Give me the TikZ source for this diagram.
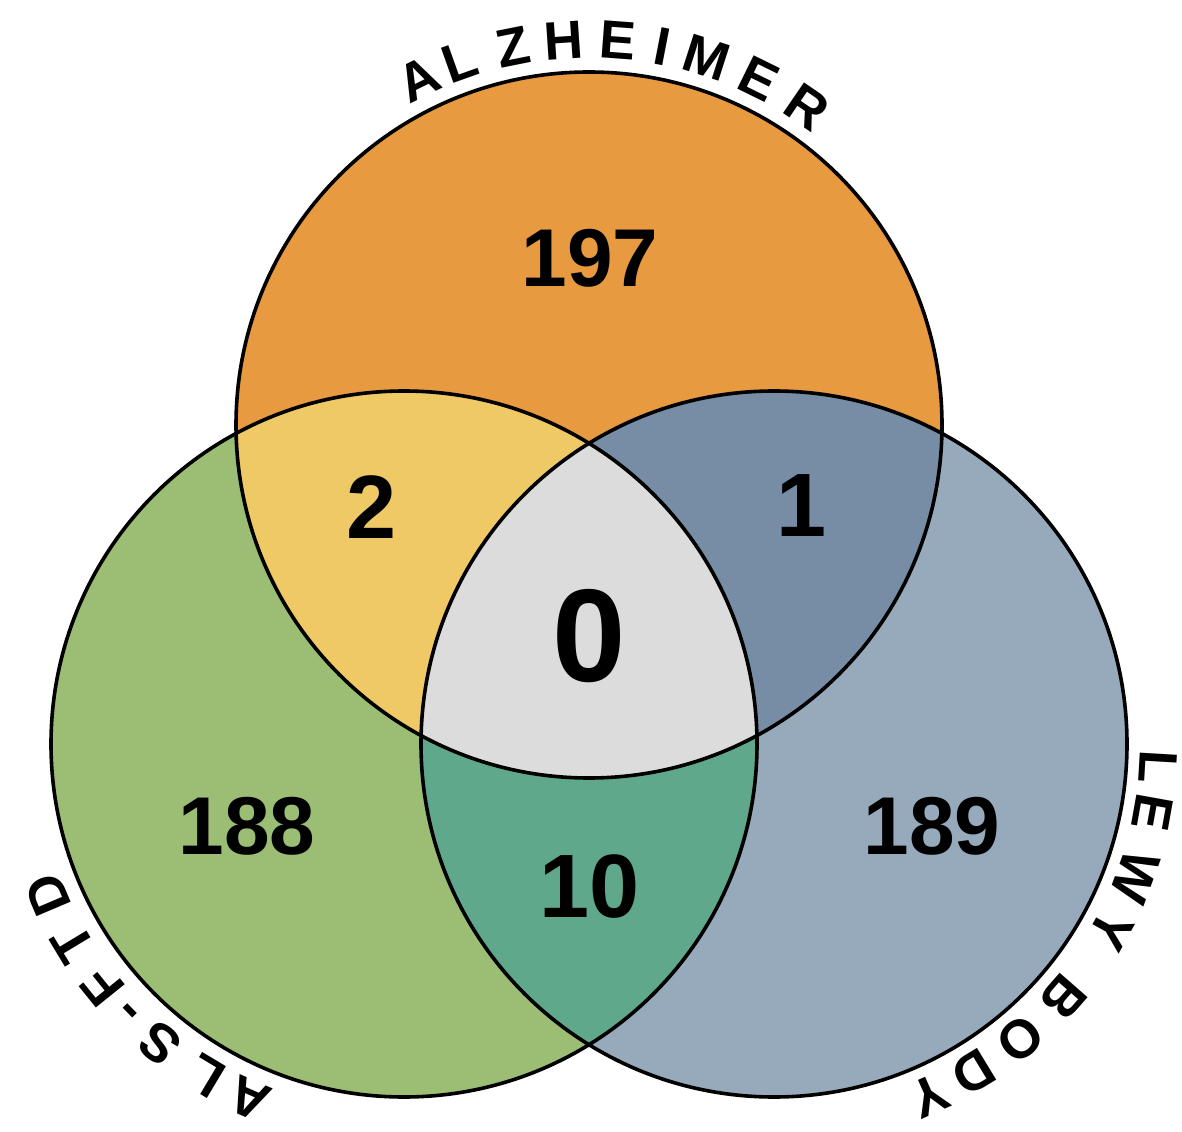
\documentclass[tikz,border=0pt]{standalone}
\usepackage{fontspec}
\setmainfont{Liberation Sans}
\usetikzlibrary{calc}
\definecolor{cAlz}{HTML}{E89A41}
\definecolor{cAls}{HTML}{9BBD74}
\definecolor{cLew}{HTML}{97AABC}
\definecolor{cAlzAls}{HTML}{EFC966}
\definecolor{cAlzLew}{HTML}{768DA5}
\definecolor{cAlsLew}{HTML}{5FA88C}
\definecolor{cAll}{HTML}{DCDCDC}
\begin{document}
\begin{tikzpicture}[x=0.5pt,y=0.5pt,
  num/.style={font=\bfseries\fontsize{41}{41}\selectfont, inner sep=0pt, anchor=center},
  bignum/.style={font=\bfseries\fontsize{45}{45}\selectfont, inner sep=0pt, anchor=center},
  hugenum/.style={font=\bfseries\fontsize{66}{66}\selectfont, inner sep=0pt, anchor=center},
  lab/.style={font=\bfseries\fontsize{27}{27}\selectfont, inner sep=0pt, anchor=base},
  ring/.style={draw=black, line width=1.8pt}]
\useasboundingbox (0,0) rectangle (1182,1131);
\coordinate (cA) at (589,706);
\coordinate (cL) at (404,387);
\coordinate (cR) at (774,387);
\def\rr{176.5pt}
% base fills
\fill[cAlz] (cA) circle[radius=\rr];
\fill[cAls] (cL) circle[radius=\rr];
\fill[cLew] (cR) circle[radius=\rr];
% pairwise intersections
\begin{scope}
  \clip (cA) circle[radius=\rr];
  \fill[cAlzAls] (cL) circle[radius=\rr];
  \fill[cAlzLew] (cR) circle[radius=\rr];
\end{scope}
\begin{scope}
  \clip (cL) circle[radius=\rr];
  \fill[cAlsLew] (cR) circle[radius=\rr];
\end{scope}
\begin{scope}
  \clip (cA) circle[radius=\rr];
  \clip (cL) circle[radius=\rr];
  \fill[cAll] (cR) circle[radius=\rr];
\end{scope}
% outlines
\draw[ring] (cA) circle[radius=\rr];
\draw[ring] (cL) circle[radius=\rr];
\draw[ring] (cR) circle[radius=\rr];
% counts
\node[num] (n197) at (590,873) {197};
\node[bignum] (n2) at (372,624) {2};
\node[bignum] (n1) at (802,625) {1};
\node[hugenum] (n0) at (589,495) {0};
\node[bignum] (n10) at (590,244) {10};
\node[num] (n188) at (247,305) {188};
\node[num] (n189) at (932,305) {189};
% curved labels
\foreach \t/\a [count=\i] in {A/116.2, L/109.6, Z/101.3, H/93.8, E/85.7, I/79.1, M/72.2, E/63.8, R/55.6}
  \node[lab, rotate=\a-90] (alz\i) at ($(cA)+(\a:183.5pt)$) {\t};
\foreach \t/\a [count=\i] in {L/-3.4, E/-10.2, W/-20.2, Y/-28.9, B/-41.2, O/-50.1, D/-58.7, Y/-66.1}
  \node[lab, rotate=\a-90] (lew\i) at ($(cR)+(\a:183pt)$) {\t};
\foreach \t/\a [count=\i] in {A/-113.6, L/-120.9, S/-129.2, -/-135.7, F/-141.1, T/-148.9, D/-157.0}
  \node[lab, rotate=\a-90] (als\i) at ($(cL)+(\a:184pt)$) {\t};
\end{tikzpicture}
\end{document}
